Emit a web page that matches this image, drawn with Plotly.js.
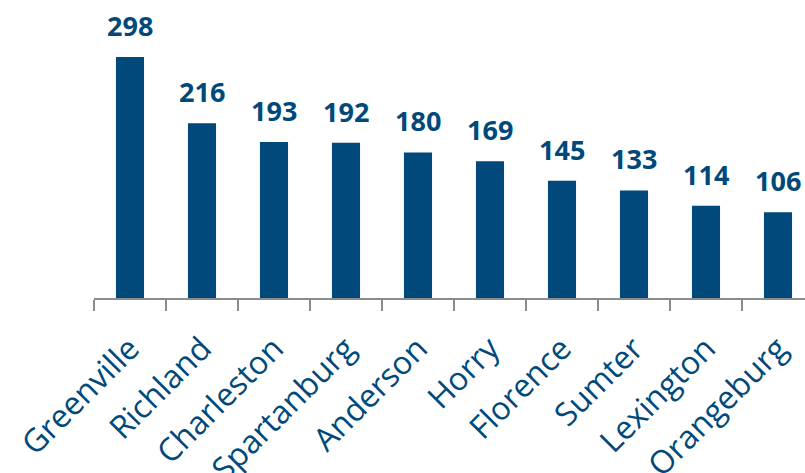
<!DOCTYPE html>
<html>
<head>
<meta charset="utf-8">
<script src="https://cdn.plot.ly/plotly-3.0.1.min.js"></script>
<style>html,body{margin:0;padding:0;background:#fff;overflow:hidden}</style>
</head>
<body>
<div id="chart" style="width:805px;height:473px"></div>
<script>
const counties = ["Greenville","Richland","Charleston","Spartanburg","Anderson","Horry","Florence","Sumter","Lexington","Orangeburg"];
const counts = [298,216,193,192,180,169,145,133,114,106];

const barColor = "#00497a";
const annotations = counties.map((c, i) => ({
  x: c, y: counts[i], text: String(counts[i]),
  xref: "x", yref: "y", showarrow: false,
  yanchor: "bottom", yshift: 11,
  font: {family: "Open Sans", size: 27, color: barColor, weight: 700}
}));

const data = [{
  type: "bar", x: counties, y: counts,
  marker: {color: barColor},
  width: 0.39,
  hoverinfo: "none"
}];

const layout = {
  width: 805, height: 473,
  margin: {l: 94, r: 0, t: 0, b: 175},
  paper_bgcolor: "#fff", plot_bgcolor: "#fff",
  showlegend: false,
  xaxis: {
    type: "category",
    range: [-0.5, 9.375],
    showline: true, linecolor: "#8c8c8c", linewidth: 2,
    ticks: "outside", ticklen: 11, tickwidth: 2, tickcolor: "#8c8c8c",
    tickson: "boundaries",
    tickangle: -45,
    ticklabelstandoff: 17,
    tickfont: {family: "Open Sans", size: 32, color: barColor},
    showgrid: false, zeroline: false
  },
  yaxis: {
    range: [0, 368.4],
    visible: false, showgrid: false, zeroline: false
  },
  annotations: annotations
};

Plotly.newPlot("chart", data, layout, {staticPlot: true, displayModeBar: false});
</script>
</body>
</html>
